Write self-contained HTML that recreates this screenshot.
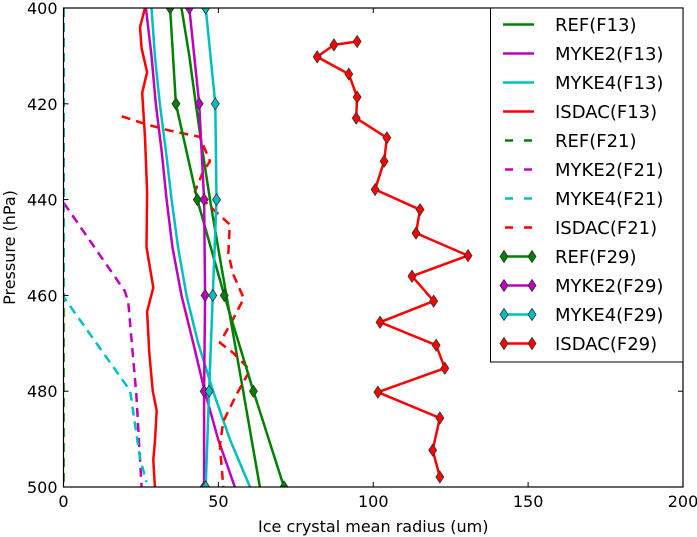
<!DOCTYPE html>
<html><head><meta charset="utf-8"><style>
body{margin:0;background:#fff}
svg{display:block;font-family:"DejaVu Sans","Liberation Sans",sans-serif}
</style></head><body>
<svg id="chart" width="697" height="537" viewBox="0 0 697 537" xmlns="http://www.w3.org/2000/svg">
<g id="marks"></g>
<g id="axes"></g>
<g id="legend"></g>
</svg>
<script>
const xTicks = [0, 50, 100, 150, 200];
const yTicks = [400, 420, 440, 460, 480, 500];
const pF29 = [400, 420, 440, 460, 480, 500];
const refF29 = [34.4, 36.3, 43.2, 51.9, 61.3, 71.2];
const myke2F29 = [40.6, 43.8, 45.4, 45.7, 45.4, 45.4];
const myke4F29 = [45.9, 49.0, 49.4, 48.2, 47.0, 45.9];
const pIsdacF29 = [407.0, 407.7, 410.2, 413.8, 418.6, 423.0, 427.1, 432.0, 437.9, 442.1, 447.0, 451.7, 456.0, 461.2, 465.6, 470.4, 475.2, 480.2, 485.6, 492.3, 497.9];
const isdacF29 = [94.8, 87.3, 81.9, 92.1, 94.8, 94.5, 104.4, 103.5, 100.6, 115.1, 113.8, 130.6, 112.5, 119.5, 102.2, 120.3, 123.1, 101.5, 121.5, 119.2, 121.5];
const pF13 = [400, 410, 420, 430, 440, 450, 460, 470, 480, 490, 500];
const refF13 = [38.1, 40.6, 42.7, 44.9, 47.3, 49.9, 52.6, 55.3, 58.0, 60.7, 63.4];
const myke2F13 = [26.6, 28.4, 29.8, 31.7, 33.3, 35.2, 38.1, 41.9, 45.6, 49.9, 55.3];
const myke4F13 = [28.4, 29.5, 31.1, 33.1, 34.9, 37.0, 39.7, 43.5, 48.3, 53.7, 60.2];
const pIsdacF13 = [400, 404, 408.4, 413.4, 417.7, 427, 438.4, 449.9, 458.4, 463.4, 472, 479.9, 484.1, 490.6, 494.3, 500];
const isdacF13 = [26.3, 24.7, 25.2, 27.0, 25.4, 26.3, 27.0, 26.8, 29.0, 27.0, 27.7, 28.8, 30.1, 29.5, 29.0, 29.5];
const pRefF21 = [400, 500];
const refF21 = [0, 0];
const pMyke2F21 = [400, 440.6, 459.1, 461.3, 480.6, 500];
const myke2F21 = [0, 0, 19.8, 20.9, 23.5, 25.2];
const pMyke4F21 = [400, 460.3, 479.9, 494, 499];
const myke4F21 = [0, 0, 21.5, 24.7, 26.8];
const pIsdacF21 = [422.6, 424.3, 425.6, 426.9, 432, 434.1, 438.4, 442, 445.2, 451.3, 455.6, 460.6, 464.9, 469.9, 472, 475.6, 480.6, 486.3, 491.3, 500];
const isdacF21 = [18.8, 26.8, 34.3, 44.0, 47.3, 45.1, 42.4, 48.3, 53.7, 53.2, 54.8, 58.2, 54.8, 50.5, 54.8, 60.2, 55.9, 51.6, 50.5, 51.6];

const X0 = 63.5, X1 = 683, Y0 = 8, Y1 = 487;
const xs = v => X0 + (v - 0) / 200 * (X1 - X0);
const ys = p => Y0 + (p - 400) / 100 * (Y1 - Y0);
const NS = 'http://www.w3.org/2000/svg';
const mk = (tag, attrs, parent) => { const e = document.createElementNS(NS, tag); for (const k in attrs) e.setAttribute(k, attrs[k]); parent.appendChild(e); return e; };
const marks = document.getElementById('marks');
const axes = document.getElementById('axes');
const legend = document.getElementById('legend');

const G = '#007f00', M = '#bf00bf', C = '#00bfbf', R = '#ff0000';
const cp = mk('clipPath', {id: 'clip'}, marks);
mk('rect', {x: X0, y: Y0, width: X1 - X0, height: Y1 - Y0}, cp);
const plot = mk('g', {'clip-path': 'url(#clip)'}, marks);

function series(name, vals, ps, color, dashed, markers) {
  const g = mk('g', {}, plot);
  
  
  const pts = vals.map((v, i) => xs(v).toFixed(1) + ',' + ys(ps[i]).toFixed(1)).join(' ');
  const line = mk('polyline', {points: pts, fill: 'none', stroke: color, 'stroke-width': 2.5, 'stroke-linejoin': 'round'}, g);
  
  
  if (dashed) line.setAttribute('stroke-dasharray', '9,6');
  if (markers) vals.forEach((v, i) => {
    const x = xs(v), y = ys(ps[i]);
    const d = mk('polygon', {points: `${x},${y-6} ${x+4},${y} ${x},${y+6} ${x-4},${y}`, fill: color, stroke: '#333', 'stroke-width': 0.8}, g);
    
    
  });
}
series('ref-f13', refF13, pF13, G, false, false);
series('myke2-f13', myke2F13, pF13, M, false, false);
series('myke4-f13', myke4F13, pF13, C, false, false);
series('isdac-f13', isdacF13, pIsdacF13, R, false, false);
series('ref-f21', refF21, pRefF21, G, true, false);
series('myke2-f21', myke2F21, pMyke2F21, M, true, false);
series('myke4-f21', myke4F21, pMyke4F21, C, true, false);
series('isdac-f21', isdacF21, pIsdacF21, R, true, false);
series('ref-f29', refF29, pF29, G, false, true);
series('myke2-f29', myke2F29, pF29, M, false, true);
series('myke4-f29', myke4F29, pF29, C, false, true);
series('isdac-f29', isdacF29, pIsdacF29, R, false, true);

const frame = mk('rect', {x: X0, y: Y0, width: X1 - X0, height: Y1 - Y0, fill: 'none', stroke: '#000', 'stroke-width': 1.2}, axes);


xTicks.forEach(t => {
  const x = xs(t);
  mk('line', {x1: x, y1: Y1, x2: x, y2: Y1 - 5, stroke: '#000'}, axes);
  mk('line', {x1: x, y1: Y0, x2: x, y2: Y0 + 5, stroke: '#000'}, axes);
  const tx = mk('text', {x: x, y: Y1 + 20, 'font-size': 16, 'text-anchor': 'middle'}, axes);
  
  
  tx.textContent = t;
});
yTicks.forEach(t => {
  const y = ys(t);
  mk('line', {x1: X0, y1: y, x2: X0 + 5, y2: y, stroke: '#000'}, axes);
  mk('line', {x1: X1, y1: y, x2: X1 - 5, y2: y, stroke: '#000'}, axes);
  const tx = mk('text', {x: X0 - 6, y: y + 6, 'font-size': 16, 'text-anchor': 'end'}, axes);
  
  
  tx.textContent = t;
});
const xt = mk('text', {x: (X0 + X1) / 2, y: 532, 'font-size': 16, 'text-anchor': 'middle'}, axes);


xt.textContent = 'Ice crystal mean radius (um)';
const yt = mk('text', {x: 0, y: 0, 'font-size': 16, 'text-anchor': 'middle', transform: `translate(15,${(Y0 + Y1) / 2}) rotate(-90)`}, axes);


yt.textContent = 'Pressure (hPa)';

const lb = mk('rect', {x: 490.5, y: 8, width: 192.5, height: 354, fill: '#fff', stroke: '#000', 'stroke-width': 1}, legend);


const legNames = ['REF(F13)', 'MYKE2(F13)', 'MYKE4(F13)', 'ISDAC(F13)', 'REF(F21)', 'MYKE2(F21)', 'MYKE4(F21)', 'ISDAC(F21)', 'REF(F29)', 'MYKE2(F29)', 'MYKE4(F29)', 'ISDAC(F29)'];
const legColors = [G, M, C, R, G, M, C, R, G, M, C, R];
legNames.forEach((n, i) => {
  const y = 24.5 + i * 29;
  const g = mk('g', {}, legend);
  
  
  const dashed = i >= 4 && i < 8, mkr = i >= 8;
  const ln = mk('line', {x1: 503, y1: y, x2: 534, y2: y, stroke: legColors[i], 'stroke-width': 2.5}, g);
  if (dashed) { ln.setAttribute('x1', 505); ln.setAttribute('x2', 532); ln.setAttribute('stroke-dasharray', '8,11'); }
  if (mkr) [504, 532].forEach(x => mk('polygon', {points: `${x},${y-6} ${x+4},${y} ${x},${y+6} ${x-4},${y}`, fill: legColors[i], stroke: '#333', 'stroke-width': 0.8}, g));
  const t = mk('text', {x: 555, y: y + 6.5, 'font-size': 18}, g);
  t.textContent = n;
});
</script>
</body></html>
